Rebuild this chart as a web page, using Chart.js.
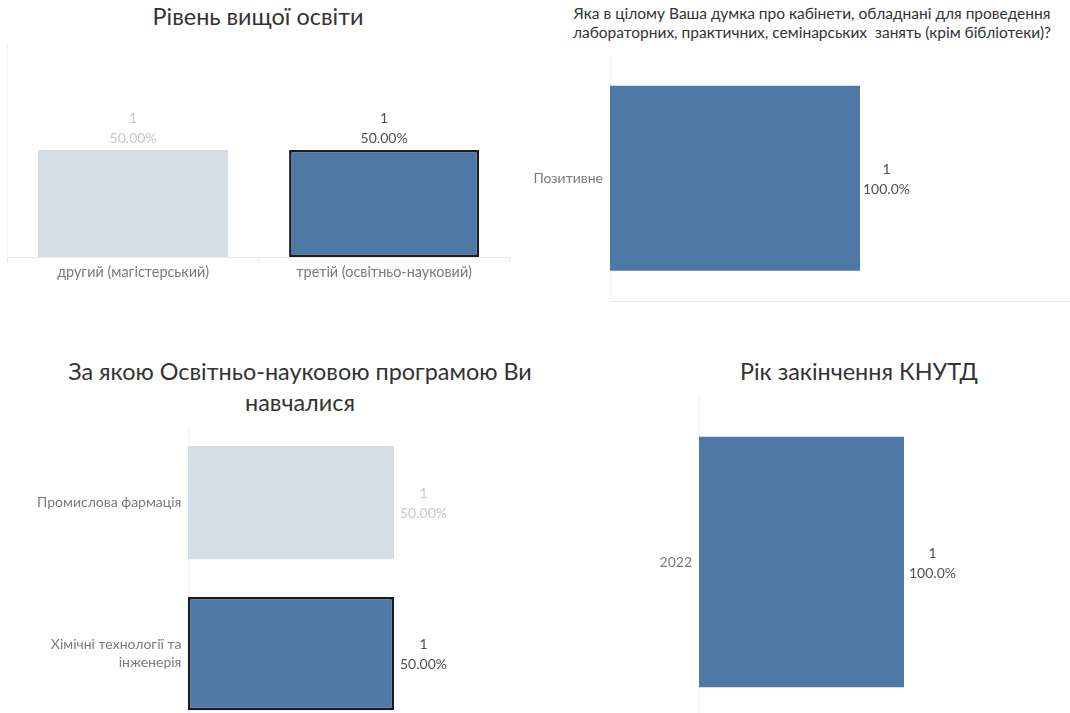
<!DOCTYPE html>
<html lang="uk">
<head>
<meta charset="utf-8">
<script src="https://cdn.jsdelivr.net/npm/chart.js@4.4.1/dist/chart.umd.min.js"></script>
<style>
  html, body { margin: 0; padding: 0; background: #ffffff; }
  body { width: 1070px; height: 713px; overflow: hidden; position: relative; font-family: Lato, "Noto Sans", sans-serif; }
  canvas { position: absolute; }
  .title { position: absolute; color: #333333; text-align: center; white-space: nowrap; font-family: Lato, "Noto Sans", sans-serif; }
</style>
</head>
<body>
<div class="title" id="t1" style="left:58px; width:400px; top:2px; font-size:23.4px; line-height:28px;">Рівень вищої освіти</div>
<div class="title" id="t2" style="left:562px; width:500px; top:4px; font-size:15.5px; line-height:18.5px;">Яка в цілому Ваша думка про кабінети, обладнані для проведення<br>лабораторних, практичних, семінарських&nbsp; занять (крім бібліотеки)?</div>
<div class="title" id="t3" style="left:40px; width:520px; top:356px; font-size:23.4px; line-height:31px;">За якою Освітньо-науковою програмою Ви<br>навчалися</div>
<div class="title" id="t4" style="left:709px; width:300px; top:357px; font-size:23.4px; line-height:28px;">Рік закінчення КНУТД</div>

<canvas id="c1" width="520" height="300" style="left:0px; top:0px;"></canvas>
<canvas id="c2" width="590" height="305" style="left:520px; top:0px;"></canvas>
<canvas id="c3" width="600" height="310" style="left:0px; top:420px;"></canvas>
<canvas id="c4" width="549" height="340" style="left:560px; top:390px;"></canvas>

<script>
// ---- data ----
const levelCats = ['другий (магістерський)', 'третій (освітньо-науковий)'];
const levelCounts = [1, 1];
const levelPct = ['50.00%', '50.00%'];
const levelState = ['dim', 'selected'];

const roomCats = ['Позитивне'];
const roomCounts = [1];
const roomPct = ['100.0%'];
const roomState = ['normal'];

const progCats = ['Промислова фармація', ['Хімічні технології та', 'інженерія']];
const progCounts = [1, 1];
const progPct = ['50.00%', '50.00%'];
const progState = ['dim', 'selected'];

const yearCats = ['2022'];
const yearCounts = [1];
const yearPct = ['100.0%'];
const yearState = ['normal'];

// ---- styling ----
const BLUE = '#4e79a7';
const DIM = '#d5dde6';
const AXIS = '#e8e8e8';
const CAT_COLOR = '#7a7a7a';
const VAL_DARK = '#505050';
const VAL_LIGHT = '#c8c8c8';

Chart.defaults.font.family = 'Lato, "Noto Sans", sans-serif';
Chart.defaults.font.size = 14;

function fillFor(s) { return s === 'dim' ? DIM : BLUE; }
function borderFor(s) { return s === 'selected' ? '#1c1c1c' : 'rgba(0,0,0,0)'; }
function borderWFor(s) { return s === 'selected' ? 2.5 : 0; }
function valColor(s) { return s === 'dim' ? VAL_LIGHT : VAL_DARK; }

const valueLabels = {
  id: 'valueLabels',
  afterDatasetsDraw(chart, args, opts) {
    const ctx = chart.ctx;
    const meta = chart.getDatasetMeta(0);
    const horizontal = chart.options.indexAxis === 'y';
    meta.data.forEach((bar, i) => {
      const lines = [String(opts.counts[i]), opts.pcts[i]];
      ctx.save();
      ctx.font = '14px Lato, "Noto Sans", sans-serif';
      ctx.fillStyle = valColor(opts.states[i]);
      ctx.textAlign = 'center';
      ctx.textBaseline = 'middle';
      if (horizontal) {
        const w = Math.max(...lines.map(l => ctx.measureText(l).width));
        const cx = bar.x + opts.gap + w / 2;
        ctx.fillText(lines[0], cx, bar.y - 9);
        ctx.fillText(lines[1], cx, bar.y + 11);
      } else {
        ctx.fillText(lines[0], bar.x, bar.y - 32);
        ctx.fillText(lines[1], bar.x, bar.y - 12);
      }
      ctx.restore();
    });
  }
};
Chart.register(valueLabels);

function dataset(counts, states) {
  return {
    data: counts,
    backgroundColor: states.map(fillFor),
    borderColor: states.map(borderFor),
    borderWidth: states.map(borderWFor),
    borderSkipped: false,
    barPercentage: 1,
  };
}

function noPad(s) { s.paddingTop = 0; s.paddingBottom = 0; s.paddingLeft = 0; s.paddingRight = 0; }

// Chart 1: vertical bars
new Chart(document.getElementById('c1'), {
  type: 'bar',
  data: { labels: levelCats, datasets: [Object.assign(dataset(levelCounts, levelState), { categoryPercentage: 0.757 })] },
  options: {
    responsive: false, animation: false, events: [],
    layout: { padding: { left: 7.6, right: 10.4, top: 43, bottom: 0 } },
    plugins: { legend: { display: false }, tooltip: { enabled: false },
      valueLabels: { counts: levelCounts, pcts: levelPct, states: levelState, gap: 4 } },
    scales: {
      x: {
        afterFit: s => { s.height = 43; noPad(s); },
        grid: { display: true, drawOnChartArea: false, drawTicks: true, tickLength: 6, offset: true, color: AXIS },
        border: { display: true, color: AXIS },
        ticks: { color: CAT_COLOR, padding: 0.6, font: { size: 14.4 } }
      },
      y: {
        min: 0, max: 2,
        afterFit: s => { s.width = 0; noPad(s); },
        grid: { display: false, drawTicks: false },
        border: { display: true, color: '#f0f0f0' },
        ticks: { display: false }
      }
    }
  }
});

function hChart(id, cats, counts, pcts, states, opt) {
  return new Chart(document.getElementById(id), {
    type: 'bar',
    data: { labels: cats, datasets: [Object.assign(dataset(counts, states), { categoryPercentage: opt.catPct })] },
    options: {
      indexAxis: 'y',
      responsive: false, animation: false, events: [],
      layout: { padding: { left: 0, right: 0, top: opt.top, bottom: 0 } },
      plugins: { legend: { display: false }, tooltip: { enabled: false },
        valueLabels: { counts: counts, pcts: pcts, states: states, gap: opt.gap } },
      scales: {
        y: {
          afterFit: s => { s.width = opt.axisW; noPad(s); },
          grid: { display: false, drawTicks: false, tickLength: 0 },
          border: { display: true, color: '#f0f0f0' },
          ticks: { color: CAT_COLOR, padding: opt.tickPad, font: { size: 14, lineHeight: 1.3 } }
        },
        x: {
          min: 0, max: 2,
          afterFit: s => { s.height = opt.bottomH; noPad(s); },
          grid: { display: false, drawTicks: false, tickLength: 0 },
          border: { display: opt.bottomLine, color: AXIS },
          ticks: { display: false }
        }
      }
    }
  });
}

hChart('c2', roomCats, roomCounts, roomPct, roomState,
  { catPct: 0.75, top: 55, axisW: 90, tickPad: 7, bottomH: 3.3, gap: 3, bottomLine: true });
hChart('c3', progCats, progCounts, progPct, progState,
  { catPct: 0.75, top: 7, axisW: 188, tickPad: 6.5, bottomH: 1, gap: 6, bottomLine: false });
hChart('c4', yearCats, yearCounts, yearPct, yearState,
  { catPct: 0.75, top: 5, axisW: 139, tickPad: 7, bottomH: 1, gap: 5, bottomLine: false });
</script>
</body>
</html>
